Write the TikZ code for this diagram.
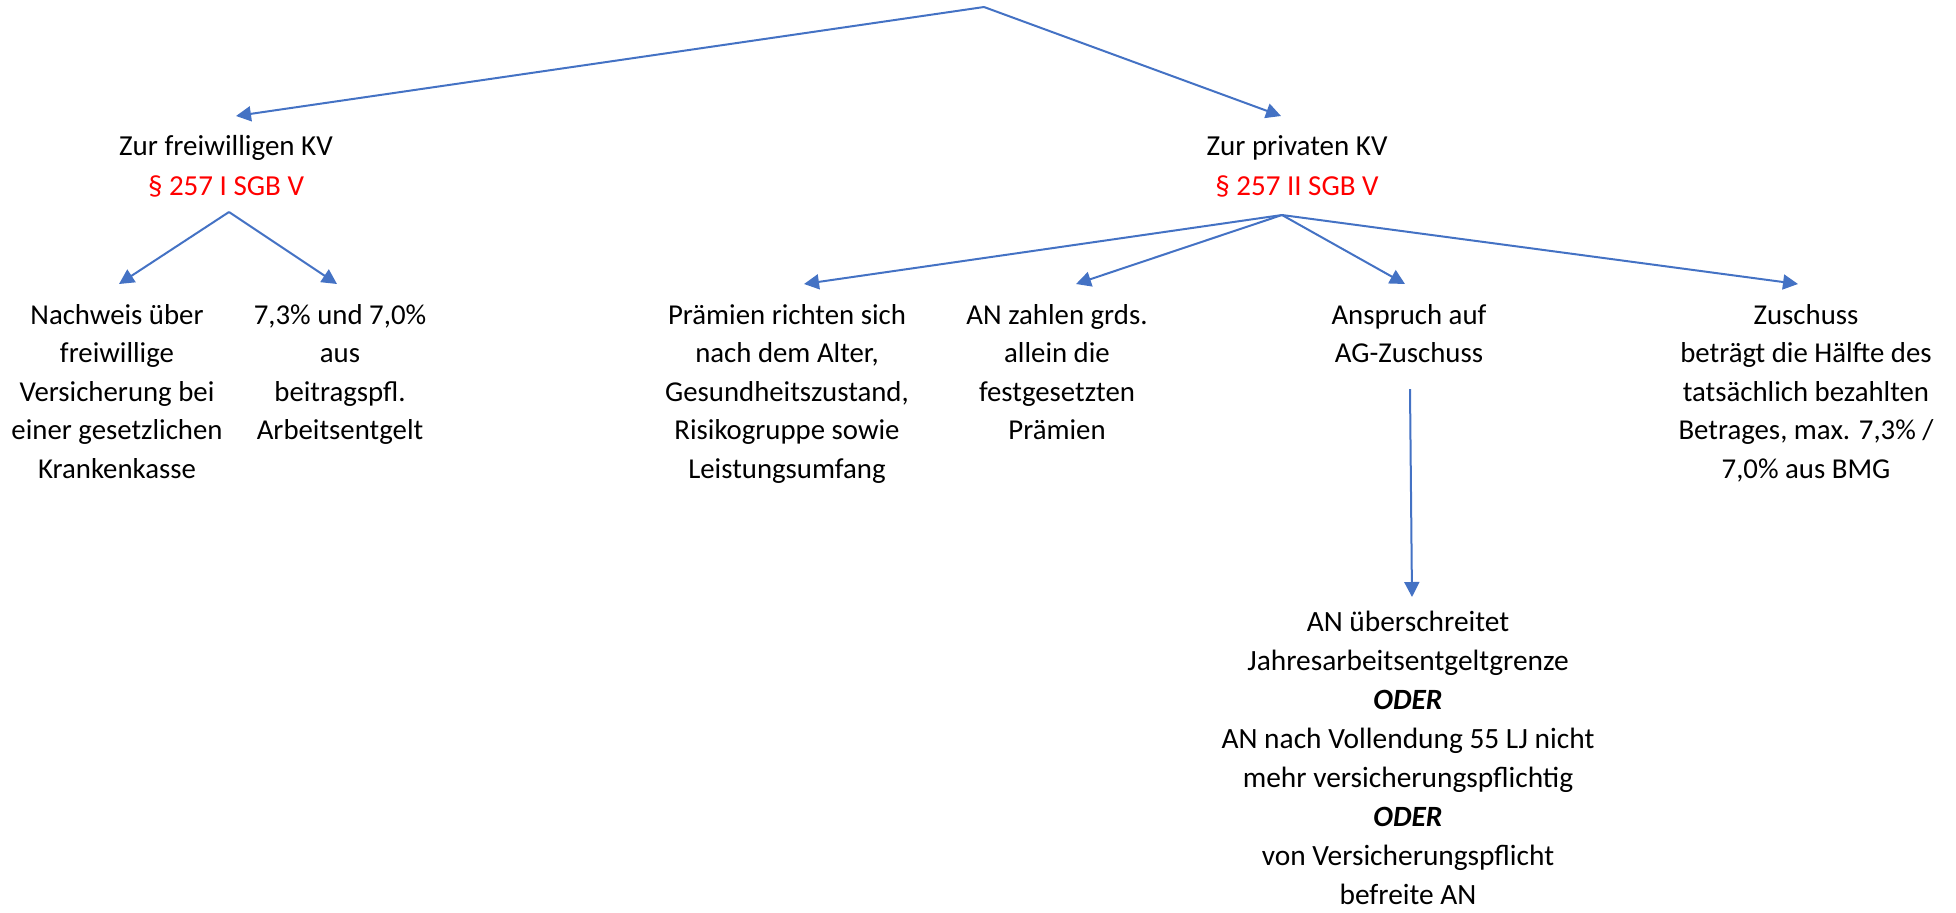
\documentclass[tikz,border=0pt]{standalone}
\usepackage{fontspec}
\setmainfont{Carlito}
\usetikzlibrary{arrows.meta}
\definecolor{lineblue}{RGB}{68,114,196}
\definecolor{parared}{RGB}{255,0,0}

\begin{document}
\begin{tikzpicture}[
    x=0.5pt, y=-0.5pt,
    every node/.style={align=center, inner sep=0pt, anchor=north,
      font=\fontsize{14.4}{19.25}\selectfont},
    head/.style={font=\fontsize{14.5}{20}\selectfont},
    cond/.style={font=\fontsize{14.7}{19.5}\selectfont},
    arr/.style={draw=lineblue, line width=1pt,
      -{Triangle[length=7.5pt,width=7.5pt]}},
  ]
  \useasboundingbox (0,0) rectangle (1956,912);

  % headings
  \node[head] (freiw) at (226,135) {Zur freiwilligen KV\\\textcolor{parared}{§ 257 I SGB V}};
  \node[head] (priv) at (1297,135) {Zur privaten KV\\\textcolor{parared}{§ 257 II SGB V}};

  % leaves
  \node (nachweis) at (117,304) {Nachweis über\\freiwillige\\Versicherung bei\\einer gesetzlichen\\Krankenkasse};
  \node (beitrag) at (340,304) {7,3\% und 7,0\%\\aus\\beitragspfl.\\Arbeitsentgelt};
  \node (praemien) at (787,304) {Prämien richten sich\\nach dem Alter,\\Gesundheitszustand,\\Risikogruppe sowie\\Leistungsumfang};
  \node (allein) at (1057,304) {AN zahlen grds.\\allein die\\festgesetzten\\Prämien};
  \node (anspruch) at (1409,304) {Anspruch auf\\AG-Zuschuss};
  \node (zuschuss) at (1806,304) {Zuschuss\\beträgt die Hälfte des\\tatsächlich bezahlten\\Betrages, max. 7,3\% /\\7,0\% aus BMG};
  \node[cond] (voraus) at (1408,611) {AN überschreitet\\Jahresarbeitsentgeltgrenze\\\textbf{\textit{ODER}}\\AN nach Vollendung 55 LJ nicht\\mehr versicherungspflichtig\\\textbf{\textit{ODER}}\\von Versicherungspflicht\\befreite AN};

  % connector ends
  \coordinate (top) at (984,7);
  \coordinate (tfreiw) at (236,116);
  \coordinate (tpriv) at (1281,116);
  \coordinate (lhub) at (229,212);
  \coordinate (rhub) at (1282,215);
  \coordinate (tnachweis) at (119,284);
  \coordinate (tbeitrag) at (337,284);
  \coordinate (tpraemien) at (804,284);
  \coordinate (tallein) at (1076,284);
  \coordinate (tanspruch) at (1405,284);
  \coordinate (tzuschuss) at (1798,284);
  \coordinate (vstart) at (1410,389);
  \coordinate (tvoraus) at (1412,597);

  \draw[arr] (top) -- (tfreiw);
  \draw[arr] (top) -- (tpriv);
  \draw[arr] (lhub) -- (tnachweis);
  \draw[arr] (lhub) -- (tbeitrag);
  \draw[arr] (rhub) -- (tpraemien);
  \draw[arr] (rhub) -- (tallein);
  \draw[arr] (rhub) -- (tanspruch);
  \draw[arr] (rhub) -- (tzuschuss);
  \draw[arr] (vstart) -- (tvoraus);
\end{tikzpicture}
\end{document}
